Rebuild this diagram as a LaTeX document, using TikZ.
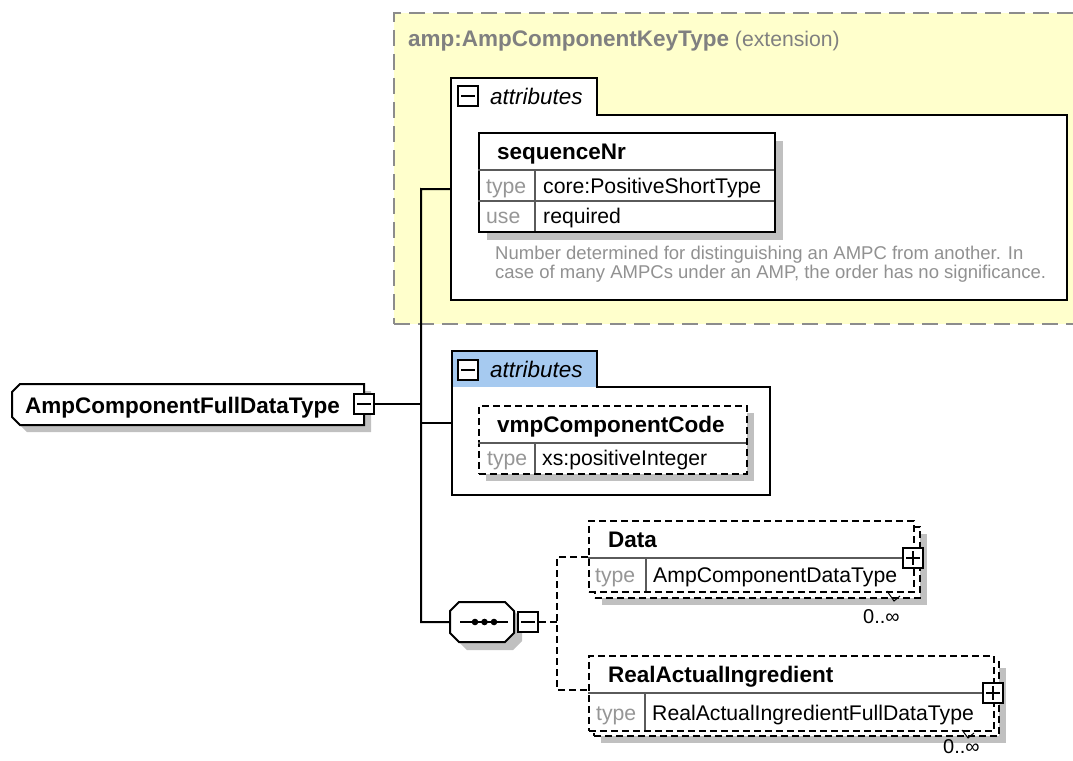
\documentclass[tikz,border=0pt]{standalone}
\usepackage{fontspec}
\setmainfont{Liberation Sans}
\usetikzlibrary{shadows}
\definecolor{ylw}{RGB}{255,255,204}
\definecolor{ygray}{RGB}{140,140,140}
\definecolor{ttlgray}{RGB}{128,128,128}
\definecolor{lblgray}{RGB}{150,150,150}
\definecolor{descgray}{RGB}{145,145,145}
\definecolor{divgray}{RGB}{90,90,90}
\definecolor{shgray}{RGB}{192,192,192}
\definecolor{tabblue}{RGB}{166,202,240}
\tikzset{
  lw/.style={line width=2pt},
  solidbox/.style={draw, line width=2pt, fill=white, inner sep=0, anchor=north west},
  dashbox/.style={draw, line width=1.8pt, dash pattern=on 7pt off 4pt, fill=white, inner sep=0, anchor=north west},
  region/.style={inner sep=0, anchor=north west},
  shad/.style={drop shadow={shadow xshift=8pt, shadow yshift=-8pt, fill=shgray, opacity=1}},
  shadsm/.style={drop shadow={shadow xshift=7pt, shadow yshift=-7pt, fill=shgray, opacity=1}},
  conn/.style={line width=2pt},
  dconn/.style={line width=1.8pt, dash pattern=on 7pt off 4pt},
  divline/.style={line width=1.3pt, draw=divgray},
  t/.style={inner sep=0, anchor=base west, font=\fontsize{21.2}{24}\selectfont},
  tb/.style={t, font=\fontsize{22.5}{24}\selectfont\bfseries},
  tl/.style={t, text=lblgray},
  ti/.style={t, font=\fontsize{22.5}{24}\selectfont\itshape},
  tdesc/.style={t, text=descgray, font=\fontsize{18.5}{19}\selectfont},
  tcard/.style={t, font=\fontsize{20}{22}\selectfont},
  iconbox/.style={draw, line width=1.8pt, fill=white, minimum size=20pt, inner sep=0},
  minusbox/.style={iconbox, path picture={\draw[line width=1.5pt] ([xshift=3pt]path picture bounding box.west) -- ([xshift=-3pt]path picture bounding box.east);}},
  plusbox/.style={iconbox, path picture={\draw[line width=1.5pt] ([xshift=3pt]path picture bounding box.west) -- ([xshift=-3pt]path picture bounding box.east) ([yshift=-3pt]path picture bounding box.north) -- ([yshift=3pt]path picture bounding box.south);}},
}
\begin{document}
\begin{tikzpicture}[x=1pt,y=-1pt]
\useasboundingbox (0,0) rectangle (1073,760);
\clip (0,0) rectangle (1073,760);
\fill[white] (0,0) rectangle (1073,760);

% extension (yellow) box
\node[draw=ygray, line width=2pt, dash pattern=on 16pt off 8pt, fill=ylw, region, minimum width=700pt, minimum height=311pt] (ext) at (393,12) {};
\node[t, text=ttlgray] (exttitle) at (408,47) {\textbf{\fontsize{22.5}{24}\selectfont amp:AmpComponentKeyType} (extension)};

% attributes group 1
\draw[lw, fill=white] (451,78) -- (597,78) -- (597,115) -- (1067,115) -- (1067,300) -- (451,300) -- cycle;
\node[region, minimum width=616pt, minimum height=222pt] (attr1) at (451,78) {};
\node[minusbox] (col1) at (468,96) {};
\node[ti] (attrlbl1) at (490,104) {attributes};

\node[solidbox, shad, minimum width=296pt, minimum height=99pt] (seqnr) at (478,132) {};
\draw[divline] (478,170) -- (774,170) (478,201) -- (774,201) (535,170) -- (535,231);
\node[tb] (seqnrname) at (497,159) {sequenceNr};
\node[tl] (seqnrtype) at (486,193) {type};
\node[t] (seqnrtypev) at (543,193) {core:PositiveShortType};
\node[tl] (seqnruse) at (486,223) {use};
\node[t] (seqnrusev) at (543,223) {required};
\node[tdesc] (desc1) at (495,259) {Number determined for distinguishing an AMPC from another. In};
\node[tdesc] (desc2) at (495,278) {case of many AMPCs under an AMP, the order has no significance.};

% root element
\fill[shgray] (27,391) -- (371,391) -- (371,432) -- (27,432) -- (19,424) -- (19,399) -- cycle;
\draw[lw, fill=white] (20,384) -- (364,384) -- (364,425) -- (20,425) -- (12,417) -- (12,392) -- cycle;
\node[region, minimum width=352pt, minimum height=41pt] (root) at (12,384) {};
\node[tb] (rootname) at (25,413) {AmpComponentFullDataType};
\node[minusbox] (rootm) at (364,404) {};

% attributes group 2
\fill[white] (452,351) -- (597,351) -- (597,387) -- (770,387) -- (770,495) -- (452,495) -- cycle;
\fill[tabblue] (452,351) rectangle (597,387);
\draw[lw] (452,351) -- (597,351) -- (597,387) -- (770,387) -- (770,495) -- (452,495) -- cycle;
\node[region, minimum width=318pt, minimum height=144pt] (attr2) at (452,351) {};
\node[minusbox] (col2) at (468,370) {};
\node[ti] (attrlbl2) at (490,377) {attributes};

\node[dashbox, shadsm, minimum width=268pt, minimum height=68pt] (vmp) at (478,405) {};
\draw[divline] (478,443) -- (746,443) (535,443) -- (535,473);
\node[tb] (vmpname) at (497,432) {vmpComponentCode};
\node[tl] (vmptype) at (487,465) {type};
\node[t] (vmptypev) at (542,465) {xs:positiveInteger};

% sequence compositor
\fill[shgray] (467,610) -- (513,610) -- (522,619) -- (522,641) -- (513,650) -- (467,650) -- (458,641) -- (458,619) -- cycle;
\draw[lw, fill=white] (459,602) -- (505,602) -- (514,611) -- (514,633) -- (505,642) -- (459,642) -- (450,633) -- (450,611) -- cycle;
\node[region, minimum width=64pt, minimum height=40pt] (seq) at (450,602) {};
\draw[line width=1.5pt] (460,622) -- (508,622);
\fill (475,622) circle (3.3) (484.5,622) circle (3.3) (494,622) circle (3.3);
\node[minusbox] (seqm) at (528,622) {};

% Data element
\node[dashbox, shadsm, minimum width=325pt, minimum height=71pt] (databack) at (594,526) {};
\node[dashbox, minimum width=325pt, minimum height=71pt] (data) at (588,520) {};
\draw[divline] (588,558) -- (913,558) (646,558) -- (646,591);
\node[tb] (dataname) at (608,547) {Data};
\node[tl] (datatype) at (595,582) {type};
\node[t] (datatypev) at (653,582) {AmpComponentDataType};
\node[plusbox] (datap) at (913,558) {};
\draw[line width=1pt] (887,591) -- (894,601) -- (900,596);
\node[tcard] (datacard) at (863,623) {0..∞};

% RealActualIngredient element
\node[dashbox, shadsm, minimum width=405pt, minimum height=75pt] (raiback) at (593,660) {};
\node[dashbox, minimum width=405pt, minimum height=75pt] (rai) at (588,655) {};
\draw[divline] (588,693) -- (993,693) (645,693) -- (645,730);
\node[tb] (rainame) at (608,682) {RealActualIngredient};
\node[tl] (raitype) at (596,720) {type};
\node[t] (raitypev) at (652,720) {RealActualIngredientFullDataType};
\node[plusbox] (raip) at (993,693) {};
\draw[line width=1pt] (962,730) -- (968,738) -- (974,733);
\node[tcard] (raicard) at (943,753) {0..∞};

% connectors
\coordinate (bustop) at (421,189);
\coordinate (busbot) at (421,622);
\draw[conn] (attr1.west) -- (bustop) -- (busbot) -- (seq.west);
\draw[conn] (rootm.east) -- (rootm.east -| bustop);
\draw[conn] (attr2.west -| bustop) -- (attr2.west);
\coordinate (chtop) at (557,557);
\coordinate (chbot) at (557,690);
\draw[dconn] (seqm.east) -- (seqm.east -| chtop);
\draw[dconn] (data.west |- chtop) -- (chtop) -- (chbot) -- (chbot -| rai.west);
\end{tikzpicture}
\end{document}
